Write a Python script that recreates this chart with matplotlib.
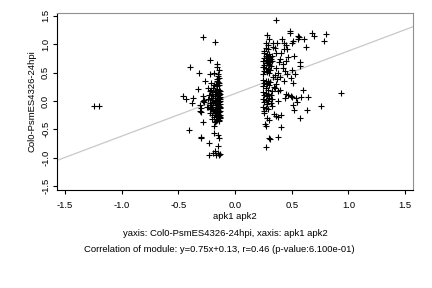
import numpy as np
import matplotlib
matplotlib.use("Agg")
import matplotlib.pyplot as plt

plt.rcParams['font.family'] = ['Liberation Sans', 'DejaVu Sans']

# left group (x around -0.2)
left_x = [-0.28, -0.177, -0.223, -0.155, -0.16, -0.394, -0.318, -0.223, -0.188, -0.15,
          -0.155, -0.148, -0.267, -0.208, -0.188, -0.327, -0.458, -0.43, -0.37, -0.376,
          -0.28, -0.275, -0.285, -0.27, -0.31, -0.30, -0.31, -0.297, -0.25, -0.22,
          -0.19, -0.28, -0.188, -0.405, -0.188, -0.15, -0.144, -0.297, -0.23, -0.15,
          -0.18, -0.15, -0.135, -0.165, -0.14, -0.23, -0.19, -0.30,
          -0.24, -0.21, -0.19, -0.16, -0.14, -0.22, -0.18, -0.15, -0.13, -0.20,
          -0.17, -0.14, -0.23, -0.19, -0.16, -0.13, -0.21, -0.18, -0.15, -0.135,
          -0.24, -0.20, -0.17, -0.14, -0.22, -0.19, -0.16, -0.13, -0.21, -0.17,
          -0.145, -0.235, -0.20, -0.155, -0.135, -0.18, -0.21, -0.15, -0.13, -0.19,
          -0.165, -0.14, -0.22, -0.175, -0.15, -0.135, -0.20, -0.16, -0.14, -0.185,
          -0.15, -0.135, -0.17, -0.20, -0.145, -0.16, -0.14, -0.18, -0.155, -0.14,
          -0.17, -0.145, -0.16, -0.14, -0.15, -0.145, -0.18, -0.155, -0.14, -0.16,
          -0.145, -0.17, -0.15, -0.16, -0.145, -0.13, -0.135, -0.13, -0.19, -0.18,
          -0.16, -0.15, -0.13, -0.17]
left_y = [1.13, 1.03, 0.72, 0.646, 0.60, 0.59, 0.49, 0.47, 0.50, 0.44,
          0.39, 0.34, 0.35, 0.31, 0.28, 0.21, 0.088, 0.035, 0.05, -0.03,
          0.08, 0.02, 0.0, -0.01, -0.07, -0.12, -0.17, -0.19, -0.10, -0.12,
          -0.16, -0.364, -0.44, -0.51, -0.56, -0.60, -0.65, -0.657, -0.745, -0.79,
          -0.89, -0.91, -0.93, -0.95, -0.95, -0.95, -0.91, -0.64,
          0.22, 0.20, 0.23, 0.21, 0.19, 0.17, 0.16, 0.15, 0.17, 0.13,
          0.12, 0.11, 0.10, 0.09, 0.08, 0.07, 0.06, 0.05, 0.04, 0.03,
          0.03, 0.01, 0.00, -0.01, -0.03, -0.04, -0.05, -0.06, -0.07, -0.08,
          -0.09, -0.10, -0.11, -0.12, -0.13, -0.14, -0.15, -0.16, -0.17, -0.18,
          -0.19, -0.20, -0.21, -0.22, -0.23, -0.24, -0.25, -0.26, -0.27, -0.28,
          -0.29, -0.30, -0.31, -0.32, -0.33, -0.34, -0.36, -0.37, 0.26, 0.28,
          0.30, 0.32, 0.36, 0.40, 0.48, 0.55, 0.02, -0.02, 0.05, 0.10,
          0.14, 0.18, -0.07, -0.14, -0.18, -0.10, 0.00, 0.12, -0.01, 0.08,
          0.19, -0.25, -0.28, -0.36]

# right group (x around 0.3 - 0.8)
right_x = [0.362, 0.286, 0.483, 0.489, 0.683, 0.70, 0.803, 0.786, 0.30, 0.277,
           0.335, 0.374, 0.418, 0.433, 0.447, 0.50, 0.515, 0.553, 0.565, 0.557,
           0.609, 0.624, 0.29, 0.335, 0.35, 0.403, 0.462, 0.36, 0.39, 0.447,
           0.577, 0.577, 0.512, 0.60, 0.939, 0.45, 0.47, 0.49, 0.50, 0.445,
           0.54, 0.545, 0.586, 0.645, 0.38, 0.51, 0.52, 0.635, 0.756, 0.34,
           0.36, 0.38, 0.41, 0.57, 0.263, 0.277, 0.41, 0.30, 0.31, 0.38, 0.27,
           0.36, 0.42, 0.44, 0.38, 0.46, 0.50, 0.53, 0.35, 0.40, 0.335,
           0.37, 0.43, 0.36, 0.34, 0.35, 0.40, 0.38, 0.33, 0.49, 0.42,
           0.40, 0.47, 0.52, 0.43,
           0.26, 0.28, 0.30, 0.27, 0.29, 0.31, 0.33, 0.26, 0.28, 0.30,
           0.32, 0.27, 0.29, 0.31, 0.33, 0.25, 0.28, 0.30, 0.26, 0.32,
           0.25, 0.27, 0.29, 0.31, 0.26, 0.28, 0.30, 0.25,
           0.25, 0.27, 0.29, 0.31, 0.26, 0.28, 0.30, 0.25,
           0.25, 0.27, 0.29, 0.26, 0.28, 0.30, 0.25, 0.27, 0.29, 0.26, 0.32, 0.33,
           0.25, 0.27, 0.29, 0.26, 0.28, 0.32, 0.33,
           0.27, 0.29, 0.26, 0.27, 0.29, 0.26, 0.28, 0.30]
right_y = [1.426, 1.167, 1.238, 1.20, 1.19, 1.15, 1.18, 1.056, 1.086, 1.015,
           1.027, 1.027, 1.086, 1.015, 0.986, 1.027, 1.06, 1.097, 1.12, 1.14,
           1.10, 0.945, 0.986, 0.956, 0.928, 0.84, 0.91, 0.84, 0.69, 0.70,
           0.69, 0.62, 0.32, 0.19, 0.146, 0.12, 0.10, 0.09, 0.075, 0.05,
           0.05, -0.01, 0.065, 0.065, 0.005, -0.07, -0.16, -0.16, -0.088, -0.23,
           -0.26, -0.28, -0.25, -0.305, -0.40, -0.44, -0.46, -0.66, -0.67, -0.63, -0.81,
           0.58, 0.58, 0.52, 0.50, 0.48, 0.55, 0.48, 0.45, 0.42, 0.43,
           0.38, 0.36, 0.30, 0.25, 0.23, 0.20, 0.18, 0.18, 0.40, 0.65,
           0.74, 0.78, 0.80, 0.92,
           0.85, 0.83, 0.82, 0.79, 0.78, 0.77, 0.80, 0.75, 0.73, 0.72,
           0.74, 0.70, 0.69, 0.68, 0.70, 0.71, 0.66, 0.64, 0.63, 0.62,
           0.60, 0.58, 0.56, 0.55, 0.53, 0.51, 0.50, 0.48,
           0.37, 0.35, 0.36, 0.33, 0.32, 0.30, 0.28, 0.26,
           0.16, 0.14, 0.12, 0.10, 0.08, 0.06, 0.04, 0.02, 0.00, -0.01, 0.10, 0.03,
           -0.10, -0.12, -0.14, -0.17, -0.06, -0.04, -0.09,
           0.93, 0.91, 0.88, 0.22, 0.20, -0.22, -0.30, -0.34]

# two outliers far left
out_x = [-1.244, -1.202]
out_y = [-0.088, -0.088]

slope = 0.75
intercept = 0.13
xlim = (-1.57, 1.57)
ylim = (-1.57, 1.55)

xs = np.array(left_x + right_x + out_x)
ys = np.array(left_y + right_y + out_y)

fig = plt.figure(figsize=(4.32, 2.88), dpi=100)
ax = fig.add_axes([0.132, 0.340, 0.824, 0.615])

lx = np.array(xlim)
ax.plot(lx, slope * lx + intercept, color='#c8c8c8', lw=0.9, zorder=1)
ax.plot(xs, ys, '+', color='black', ms=4, mew=0.8, zorder=2)

ax.set_xlim(xlim)
ax.set_ylim(ylim)
ticks = [-1.5, -1.0, -0.5, 0.0, 0.5, 1.0, 1.5]
fs = 6.8
ax.set_xticks(ticks)
ax.set_yticks(ticks)
ax.set_xticklabels(['%.1f' % t for t in ticks], fontsize=fs)
ax.set_yticklabels(['%.1f' % t for t in ticks], fontsize=fs, rotation=90, va='center')
ax.tick_params(direction='out', length=3, width=0.8)
ax.tick_params(axis='x', pad=5)
ax.tick_params(axis='y', pad=2)

for s in ['top', 'right']:
    ax.spines[s].set_color('#909090')
for s in ['left', 'bottom']:
    ax.spines[s].set_color('black')
for s in ax.spines.values():
    s.set_linewidth(0.8)

ax.set_ylabel('Col0-PsmES4326-24hpi', fontsize=fs, labelpad=3)
ax.set_xlabel('apk1 apk2', fontsize=fs, labelpad=1)

fig.text(225 / 432, 1 - 233 / 288, 'yaxis: Col0-PsmES4326-24hpi, xaxis: apk1 apk2',
         ha='center', va='center', fontsize=fs)
fig.text(219 / 432, 1 - 249 / 288,
         'Correlation of module: y=0.75x+0.13, r=0.46 (p-value:6.100e-01)',
         ha='center', va='center', fontsize=fs)

fig.savefig('out.png', dpi=100)
